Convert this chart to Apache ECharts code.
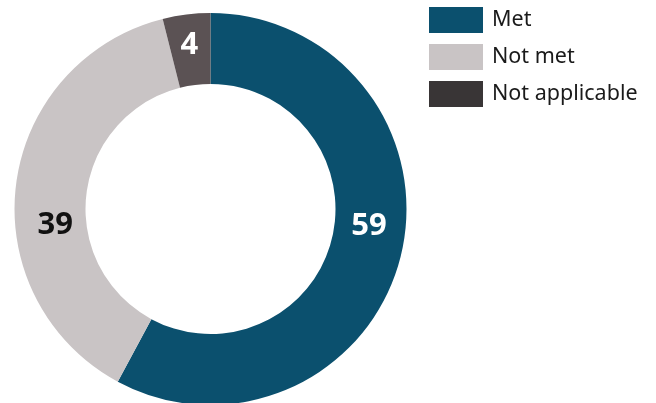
<!DOCTYPE html>
<html>
<head>
<meta charset="utf-8">
<script src="https://cdn.jsdelivr.net/npm/echarts@6/dist/echarts.min.js"></script>
<style>
  html, body { margin: 0; padding: 0; background: #ffffff; }
  #chart { width: 656px; height: 403px; }
</style>
</head>
<body>
<div id="chart"></div>
<script>
// Outcome counts, drawn clockwise from 12 o'clock
const categories = ['Met', 'Not met', 'Not applicable'];
const counts = [59, 39, 4];

// Slice fills, legend swatches and in-slice label colours
const sliceColors = ['#0b506e', '#c9c4c5', '#5b5254'];
const swatchColors = ['#0b506e', '#c9c4c5', '#393536'];
const labelColors = ['#ffffff', '#111111', '#ffffff'];
// Small nudges that pull each label to where it sits in the ring
const labelNudges = [[0, -23], [7, 36], [-1, -2]];

const chart = echarts.init(document.getElementById('chart'), null, { renderer: 'canvas' });

chart.setOption({
  animation: false,
  backgroundColor: '#ffffff',
  legend: {
    orient: 'vertical',
    left: 429,
    top: 7,
    itemWidth: 54,
    itemHeight: 26,
    itemGap: 11,
    icon: 'rect',
    padding: 0,
    textStyle: { fontFamily: 'Noto Sans', fontSize: 21.5, color: '#1a1a1a', padding: [0, 0, 0, 4] },
    data: categories.map((name, i) => ({ name, icon: 'rect', itemStyle: { color: swatchColors[i] } }))
  },
  series: [{
    type: 'pie',
    center: [210.5, 209],
    radius: [125, 196],
    startAngle: 90,
    clockwise: true,
    avoidLabelOverlap: false,
    emphasis: { disabled: true },
    itemStyle: { borderWidth: 0 },
    label: {
      show: true,
      position: 'inside',
      formatter: '{c}',
      fontFamily: 'Noto Sans',
      fontWeight: 'bold',
      fontSize: 31
    },
    labelLine: { show: false },
    data: categories.map((name, i) => ({
      name,
      value: counts[i],
      itemStyle: { color: sliceColors[i] },
      label: { color: labelColors[i], offset: labelNudges[i] }
    }))
  }]
});
</script>
</body>
</html>
